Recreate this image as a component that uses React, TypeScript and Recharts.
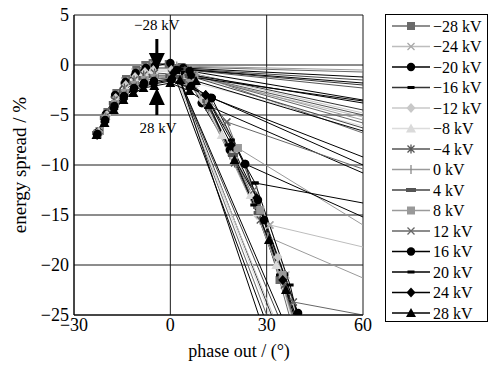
import React from 'react';
import { LineChart, Line, XAxis, YAxis, CartesianGrid, ReferenceLine, ReferenceDot, Label } from 'recharts';

type Pt = [number, number];
type Seg = Pt[];

const xTicks = [-30, 0, 30, 60];
const yTicks = [5, 0, -5, -10, -15, -20, -25];

// each series: first segment is the main curve, the rest are the stray lines
const sM28: Seg[] = [
  [[-22, -6.6], [-19.6, -4.7], [-16.8, -2.8], [-13.8, -1.4], [-10.6, -0.5], [-7.8, 0.0], [-5.5, 0.2], [-0.5, 0.1], [4, -0.3], [11, -3.6], [19, -8.5], [27, -14], [34, -21.5], [37, -25]],
  [[3.5, -0.2], [60, -0.7]],
  [[5, -0.6], [60, -6.8]],
  [[1, -0.3], [30, -25]],
];
const sM24: Seg[] = [
  [[-22.2, -6.6], [-19.8, -4.8], [-17, -2.9], [-14.2, -1.6], [-11, -0.7], [-8, -0.2], [-5.2, 0.0], [0.2, -0.1], [4.5, -0.6], [10, -3], [20, -9], [31, -16], [36, -21], [39, -25]],
  [[7, -1.2], [60, -5.2]],
  [[31, -16], [60, -18.2]],
];
const sM20: Seg[] = [
  [[-22.4, -6.7], [-20, -4.9], [-17.2, -3.0], [-14, -1.7], [-10.8, -0.8], [-7.6, -0.3], [-4.8, -0.1], [0, 0.2], [4.5, -0.8], [9.8, -3.8], [18.5, -8.5], [27.3, -13.5], [35.5, -21], [38.5, -25]],
  [[4, -0.3], [60, -1.2]],
  [[9.8, -3.8], [60, -10.8]],
];
const sM16: Seg[] = [
  [[-22.6, -6.7], [-20.2, -4.9], [-17.4, -3.2], [-14.4, -1.8], [-11.2, -1.0], [-8.2, -0.5], [-5, -0.3], [0.5, -0.3], [5, -0.9], [10.5, -3.5], [18, -8], [26, -14], [34, -21], [38, -25]],
  [[3, -0.4], [60, -2.0]],
  [[6, -0.8], [60, -4.5]],
  [[2, -0.8], [31.5, -25]],
];
const sM12: Seg[] = [
  [[-22.3, -6.7], [-19.7, -5.0], [-17, -3.3], [-13.9, -2.0], [-11, -1.2], [-7.9, -0.7], [-5.3, -0.5], [0.3, -0.5], [5, -1.1], [10, -3.5], [19, -9], [27, -15], [33.5, -19.2], [38, -25]],
  [[6, -0.8], [60, -4.8]],
  [[1.5, -1], [32, -25]],
];
const sM8: Seg[] = [
  [[-22.5, -6.7], [-20.1, -5.1], [-17.3, -3.4], [-14.1, -2.2], [-11.1, -1.3], [-8.1, -0.8], [-5.1, -0.6], [0, -0.7], [7.7, -1.8], [16, -7], [25, -13], [33, -20], [37.5, -25]],
  [[7.7, -1.8], [60, -6.1]],
  [[2, -1.2], [31, -25]],
];
const sM4: Seg[] = [
  [[-22.7, -6.8], [-20.3, -5.2], [-17.5, -3.5], [-14.3, -2.3], [-11.3, -1.5], [-8.3, -1.0], [-4.9, -0.8], [0.4, -0.9], [5.5, -1.3], [12, -4.2], [20, -9.8], [28, -15.5], [35.5, -22], [38, -25]],
  [[5.5, -0.5], [60, -2.3]],
  [[6.5, -1], [60, -5.0]],
];
const s0: Seg[] = [
  [[-22.6, -6.8], [-20, -5.2], [-17.1, -3.6], [-14, -2.5], [-11, -1.7], [-8, -1.2], [-5, -1.0], [0.2, -1.0], [5, -1.5], [10.5, -3.8], [18.5, -9], [30.4, -17.2], [34.5, -21.5], [37.8, -25]],
  [[2, -0.1], [60, -0.5]],
  [[30.4, -17.2], [60, -21.3]],
];
const sP4: Seg[] = [
  [[-22.8, -6.8], [-20.4, -5.3], [-17.6, -3.8], [-14.5, -2.6], [-11.4, -1.8], [-8.4, -1.3], [-5.2, -1.1], [0, -1.1], [5.5, -1.6], [11.5, -3.6], [19.5, -9], [27.5, -14.8], [35, -21.3], [38.8, -25]],
  [[5, -0.4], [60, -1.5]],
  [[6, -1.1], [60, -6.3]],
  [[2.5, -1.2], [33.5, -25]],
];
const sP8: Seg[] = [
  [[-22.6, -6.9], [-20.2, -5.4], [-17.2, -3.9], [-14.2, -2.8], [-11.2, -2.0], [-8, -1.5], [-5, -1.3], [0.3, -1.2], [6, -1.8], [12, -3.5], [21, -8.3], [28, -14.5], [35, -21], [38.5, -25]],
  [[7.5, -1], [60, -5.5]],
  [[21, -8.3], [60, -16]],
];
const sP12: Seg[] = [
  [[-22.9, -6.9], [-20.5, -5.5], [-17.7, -4.0], [-14.6, -2.9], [-11.5, -2.1], [-8.5, -1.6], [-5.4, -1.4], [0, -1.3], [6, -2], [11.5, -3.2], [17.6, -5.7], [26, -12.5], [38.3, -23.7], [39.5, -25]],
  [[7, -1], [60, -5.8]],
  [[17.6, -5.7], [60, -10.4]],
  [[38.3, -23.7], [60, -25]],
];
const sP16: Seg[] = [
  [[-22.7, -6.9], [-20.3, -5.5], [-17.4, -4.1], [-14.4, -3.1], [-11.3, -2.3], [-8.2, -1.8], [-5.1, -1.6], [0.5, -1.4], [6.5, -2.1], [12.9, -3.3], [23.3, -9.9], [29.2, -15.5], [39.8, -24.8], [40.1, -25]],
  [[6, -0.6], [60, -3.5]],
  [[12.9, -3.3], [60, -9.2]],
  [[23.3, -9.9], [60, -15.2]],
  [[2, -0.5], [27.5, -25]],
];
const sP20: Seg[] = [
  [[-23, -7], [-20.6, -5.6], [-17.8, -4.3], [-14.7, -3.2], [-11.6, -2.5], [-8.6, -2.0], [-5.5, -1.8], [0, -1.5], [6, -2.2], [11, -3], [19, -7.5], [26.4, -11.8], [37.3, -22], [39.5, -25]],
  [[3, -0.4], [60, -1.8]],
  [[6.5, -1.2], [60, -3.6]],
  [[26.4, -11.8], [60, -13.8]],
];
const sP24: Seg[] = [
  [[-22.8, -7], [-20.4, -5.7], [-17.5, -4.4], [-14.5, -3.4], [-11.4, -2.6], [-8.3, -2.1], [-5.2, -1.9], [0.2, -1.6], [6, -2.3], [11, -3], [19, -8], [26.9, -13.3], [35, -21.5], [39, -25]],
  [[6.5, -1], [60, -3.8]],
  [[11, -3], [60, -10]],
  [[1, -0.8], [29, -25]],
];
const sP28: Seg[] = [
  [[-23, -7], [-20.5, -5.8], [-17.6, -4.5], [-14.6, -3.5], [-11.5, -2.8], [-8.4, -2.3], [-5, -2.1], [0, -1.8], [6, -2.6], [12, -4], [20, -9.5], [30.7, -17.5], [36, -22.5], [38.5, -25]],
  [[8, -1.6], [60, -6.6]],
  [[3, -1.5], [34.5, -25]],
];

type Kind = 'square' | 'x' | 'circle' | 'dash' | 'diamond' | 'triangle' | 'star' | 'tick' | 'bar';

const series: { name: string; segs: Seg[]; stroke: string; fill: string; kind: Kind }[] = [
  { name: '−28 kV', segs: sM28, stroke: '#6a6a6a', fill: '#6a6a6a', kind: 'square' },
  { name: '−24 kV', segs: sM24, stroke: '#bdbdbd', fill: '#a8a8a8', kind: 'x' },
  { name: '−20 kV', segs: sM20, stroke: '#000', fill: '#000', kind: 'circle' },
  { name: '−16 kV', segs: sM16, stroke: '#333', fill: '#000', kind: 'dash' },
  { name: '−12 kV', segs: sM12, stroke: '#c8c8c8', fill: '#c8c8c8', kind: 'diamond' },
  { name: '−8 kV', segs: sM8, stroke: '#dcdcdc', fill: '#dadada', kind: 'triangle' },
  { name: '−4 kV', segs: sM4, stroke: '#555', fill: '#555', kind: 'star' },
  { name: '0 kV', segs: s0, stroke: '#9a9a9a', fill: '#8a8a8a', kind: 'tick' },
  { name: '4 kV', segs: sP4, stroke: '#444', fill: '#555', kind: 'bar' },
  { name: '8 kV', segs: sP8, stroke: '#9a9a9a', fill: '#999', kind: 'square' },
  { name: '12 kV', segs: sP12, stroke: '#666', fill: '#666', kind: 'x' },
  { name: '16 kV', segs: sP16, stroke: '#000', fill: '#000', kind: 'circle' },
  { name: '20 kV', segs: sP20, stroke: '#000', fill: '#000', kind: 'dash' },
  { name: '24 kV', segs: sP24, stroke: '#000', fill: '#000', kind: 'diamond' },
  { name: '28 kV', segs: sP28, stroke: '#000', fill: '#000', kind: 'triangle' },
];

const FONT = "'Liberation Serif', 'Times New Roman', serif";

const toData = (segs: Seg[]) =>
  segs.flatMap((s, k) => {
    const pts = s.map(([x, y]) => ({ x, y } as { x: number; y: number | null }));
    return k === 0 ? pts : [{ x: s[0][0], y: null }, ...pts];
  });

const Marker = ({ kind, color, cx, cy }: { kind: Kind; color: string; cx: number; cy: number }) => {
  switch (kind) {
    case 'square':
      return <rect x={cx - 4} y={cy - 4} width={8} height={8} fill={color} />;
    case 'x':
      return <path d={`M${cx - 3.5},${cy - 3.5}L${cx + 3.5},${cy + 3.5}M${cx - 3.5},${cy + 3.5}L${cx + 3.5},${cy - 3.5}`} stroke={color} strokeWidth={1.3} />;
    case 'circle':
      return <circle cx={cx} cy={cy} r={4.2} fill={color} />;
    case 'dash':
      return <rect x={cx - 3.5} y={cy - 1.5} width={7} height={3} fill={color} />;
    case 'diamond':
      return <polygon points={`${cx},${cy - 5} ${cx + 4.5},${cy} ${cx},${cy + 5} ${cx - 4.5},${cy}`} fill={color} />;
    case 'triangle':
      return <polygon points={`${cx},${cy - 5} ${cx + 5},${cy + 4} ${cx - 5},${cy + 4}`} fill={color} />;
    case 'star':
      return <path d={`M${cx - 3.5},${cy - 3.5}L${cx + 3.5},${cy + 3.5}M${cx - 3.5},${cy + 3.5}L${cx + 3.5},${cy - 3.5}M${cx},${cy - 4.5}L${cx},${cy + 4.5}`} stroke={color} strokeWidth={1.3} />;
    case 'tick':
      return <path d={`M${cx},${cy - 4.5}L${cx},${cy + 4.5}`} stroke={color} strokeWidth={1.3} />;
    case 'bar':
      return <rect x={cx - 5} y={cy - 2} width={10} height={4} fill={color} />;
    default:
      return null;
  }
};

const makeDot = (kind: Kind, color: string) => (p: any) => {
  const { cx, cy, payload, index } = p;
  if (payload == null || payload.y == null || payload.x >= 60 || payload.y <= -25 || cx == null || cy == null) {
    return <g key={`d${index}`} />;
  }
  return (
    <g key={`d${index}`}>
      <Marker kind={kind} color={color} cx={cx} cy={cy} />
    </g>
  );
};

const fmt = (v: number) => String(v).replace('-', '−');

const ArrowDown = (p: any) => (
  <polygon points={`${p.cx},${p.cy} ${p.cx - 8},${p.cy - 17} ${p.cx + 8},${p.cy - 17}`} fill="#000" />
);
const ArrowUp = (p: any) => (
  <polygon points={`${p.cx},${p.cy} ${p.cx - 8},${p.cy + 17} ${p.cx + 8},${p.cy + 17}`} fill="#000" />
);
const TextAt = (value: string) => (p: any) => (
  <text x={p.cx} y={p.cy} textAnchor="middle" dominantBaseline="central" fontFamily={FONT} fontSize={15} fill="#000">
    {value}
  </text>
);

const LegendBox = () => (
  <svg width={103} height={308} style={{ position: 'absolute', left: 385, top: 14 }}>
    <rect x={0.5} y={0.5} width={102} height={307} fill="#fff" stroke="#000" />
    {series.map((s, i) => {
      const cy = 12 + i * 20.5;
      return (
        <g key={s.name}>
          <line x1={7} x2={45} y1={cy} y2={cy} stroke={s.stroke} strokeWidth={1.3} />
          <Marker kind={s.kind} color={s.fill} cx={26} cy={cy} />
          <text x={48} y={cy + 5.5} fontFamily={FONT} fontSize={16} fill="#000">
            {s.name}
          </text>
        </g>
      );
    })}
  </svg>
);

export default function App() {
  return (
    <div style={{ position: 'absolute', left: 0, top: 0, width: 494, height: 373, background: '#fff', fontFamily: FONT }}>
      <LineChart width={494} height={373} margin={{ top: 15, right: 131, bottom: 0, left: 0 }}>
        <CartesianGrid stroke="#1a1a1a" />
        <XAxis
          dataKey="x"
          type="number"
          domain={[-30, 60]}
          ticks={xTicks}
          allowDataOverflow
          height={58}
          tickSize={2}
          tickMargin={1}
          tickLine={false}
          axisLine={{ stroke: '#000' }}
          tick={{ fontSize: 18, fill: '#000', fontFamily: FONT }}
          tickFormatter={fmt}
        >
          <Label
            content={(p: any) => (
              <text x={p.viewBox.x + 165} y={p.viewBox.y + 42} textAnchor="middle" fontFamily={FONT} fontSize={18} fill="#000">
                phase out / (°)
              </text>
            )}
          />
        </XAxis>
        <YAxis
          type="number"
          domain={[-25, 5]}
          ticks={yTicks}
          allowDataOverflow
          width={74}
          tickSize={4}
          tickMargin={1}
          tickLine={false}
          axisLine={{ stroke: '#000' }}
          tick={{ fontSize: 18, fill: '#000', fontFamily: FONT }}
          tickFormatter={fmt}
        >
          <Label
            content={(p: any) => {
              const x = p.viewBox.x + 19;
              const y = p.viewBox.y + 150;
              return (
                <text x={x} y={y} transform={`rotate(-90 ${x} ${y})`} textAnchor="middle" dominantBaseline="central" fontFamily={FONT} fontSize={19} fill="#000">
                  energy spread / %
                </text>
              );
            }}
          />
        </YAxis>
        {series.map((s) => (
          <Line
            key={s.name}
            data={toData(s.segs)}
            dataKey="y"
            name={s.name}
            type="linear"
            stroke={s.stroke}
            strokeWidth={1}
            dot={makeDot(s.kind, s.fill)}
            activeDot={false}
            connectNulls={false}
            isAnimationActive={false}
          />
        ))}
        <ReferenceLine segment={[{ x: -4.2, y: 2.6 }, { x: -4.2, y: 1.2 }]} stroke="#000" strokeWidth={3} />
        <ReferenceDot x={-4.2} y={-0.5} r={1} shape={ArrowDown} />
        <ReferenceLine segment={[{ x: -4.2, y: -4.0 }, { x: -4.2, y: -5.0 }]} stroke="#000" strokeWidth={3} />
        <ReferenceDot x={-4.2} y={-2.3} r={1} shape={ArrowUp} />
        <ReferenceDot x={-4.2} y={4.0} r={1} shape={TextAt('−28 kV')} />
        <ReferenceDot x={-3.8} y={-6.3} r={1} shape={TextAt('28 kV')} />
      </LineChart>
      <LegendBox />
    </div>
  );
}
